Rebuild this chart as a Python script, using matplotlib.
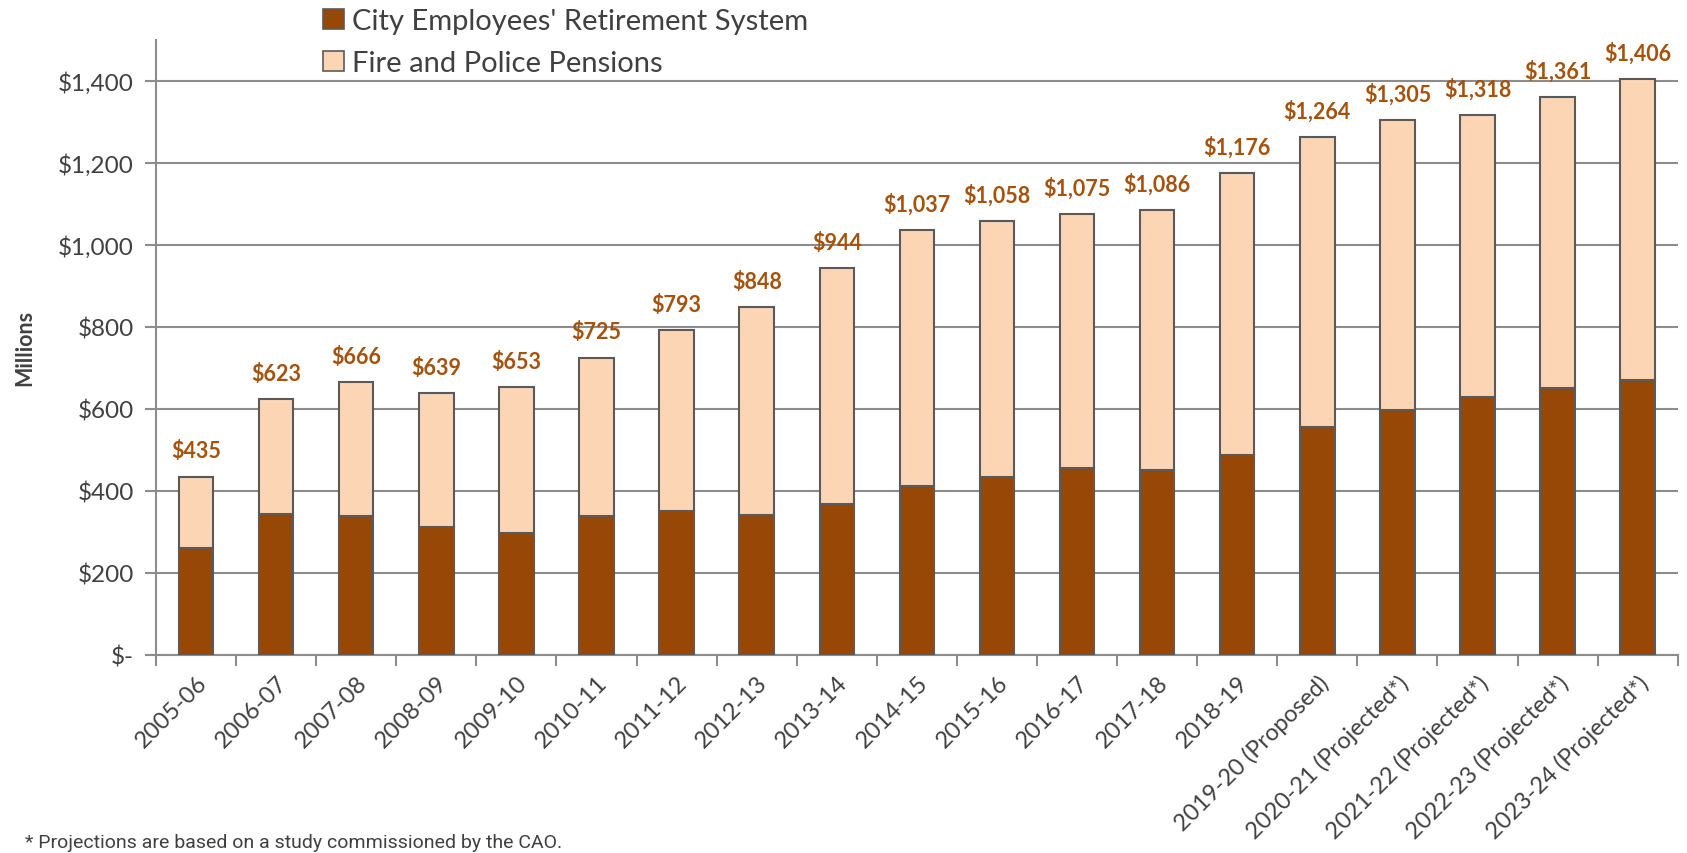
import numpy as np
import matplotlib
matplotlib.use("Agg")
import matplotlib.pyplot as plt
from matplotlib.patches import Patch

plt.rcParams.update({
    "font.family": ["Lato", "DejaVu Sans"],
    "axes.edgecolor": "#808080",
})

C_CERS = "#974706"
C_FPP = "#FCD5B5"
C_EDGE = "#5A5A5A"
C_LABEL = "#A5520D"
C_TEXT = "#404040"

years = ["2005-06", "2006-07", "2007-08", "2008-09", "2009-10", "2010-11",
         "2011-12", "2012-13", "2013-14", "2014-15", "2015-16", "2016-17",
         "2017-18", "2018-19", "2019-20 (Proposed)", "2020-21 (Projected*)",
         "2021-22 (Projected*)", "2022-23 (Projected*)", "2023-24 (Projected*)"]
cers = [260, 343, 339, 312, 297, 338, 352, 340, 368, 412, 434, 457,
        451, 487, 555, 598, 629, 651, 670]
totals = [435, 623, 666, 639, 653, 725, 793, 848, 944, 1037, 1058, 1075,
          1086, 1176, 1264, 1305, 1318, 1361, 1406]
fpp = [t - c for t, c in zip(totals, cers)]

fig = plt.figure(figsize=(16.87, 8.54), dpi=100)
ax = fig.add_axes([0.0925, 0.232, 0.902, 0.72])

x = np.arange(len(years))
w = 0.43
ax.bar(x, cers, w, color=C_CERS, edgecolor=C_EDGE, linewidth=1.5, zorder=3)
ax.bar(x, fpp, w, bottom=cers, color=C_FPP, edgecolor=C_EDGE,
       linewidth=1.5, zorder=3)

for xi, t in zip(x, totals):
    ax.annotate(f"${t:,}", (xi, t), xytext=(0, 11), textcoords="offset points",
                ha="center", va="bottom", fontsize=15.5, fontweight="bold",
                color=C_LABEL)

ax.set_xlim(-0.5, len(years) - 0.5)
ax.set_ylim(0, 1500)
ax.set_yticks(np.arange(0, 1401, 200))
ax.set_yticklabels(["$-"] + [f"${v:,}" for v in range(200, 1401, 200)])
ax.yaxis.grid(True, color="#8C8C8C", linewidth=1.5, zorder=0)

ax.set_xticks(x)
ax.set_xticklabels(years, rotation=45, ha="right", rotation_mode="anchor")
ax.set_xticks(np.arange(-0.5, len(years)), minor=True)
ax.tick_params(axis="x", which="major", length=0, pad=12,
               labelsize=17, labelcolor=C_TEXT)
ax.tick_params(axis="x", which="minor", length=8, width=1.5, color="#8C8C8C")
ax.tick_params(axis="y", length=8, width=1.5, color="#8C8C8C",
               labelsize=17.5, labelcolor=C_TEXT, pad=8)

for s in ["top", "right"]:
    ax.spines[s].set_visible(False)
for s in ["left", "bottom"]:
    ax.spines[s].set_linewidth(1.5)
    ax.spines[s].set_color("#8C8C8C")

ax.set_ylabel("Millions", fontsize=15.5, fontweight="bold", color=C_TEXT,
              labelpad=16)

handles = [Patch(facecolor=C_CERS, edgecolor=C_EDGE, linewidth=1.2),
           Patch(facecolor=C_FPP, edgecolor=C_EDGE, linewidth=1.2)]
fig.legend(handles, ["City Employees' Retirement System",
                     "Fire and Police Pensions"],
           loc="upper left", bbox_to_anchor=(0.176, 1.02), frameon=False,
           fontsize=21, handlelength=0.7, handleheight=0.7,
           handletextpad=0.3, labelspacing=0.55, labelcolor=C_TEXT)

fig.text(0.015, 0.002, "* Projections are based on a study commissioned by the CAO.",
         fontsize=14, color=C_TEXT, va="bottom", family=["Roboto", "DejaVu Sans"])

fig.savefig("out.png", dpi=100)
